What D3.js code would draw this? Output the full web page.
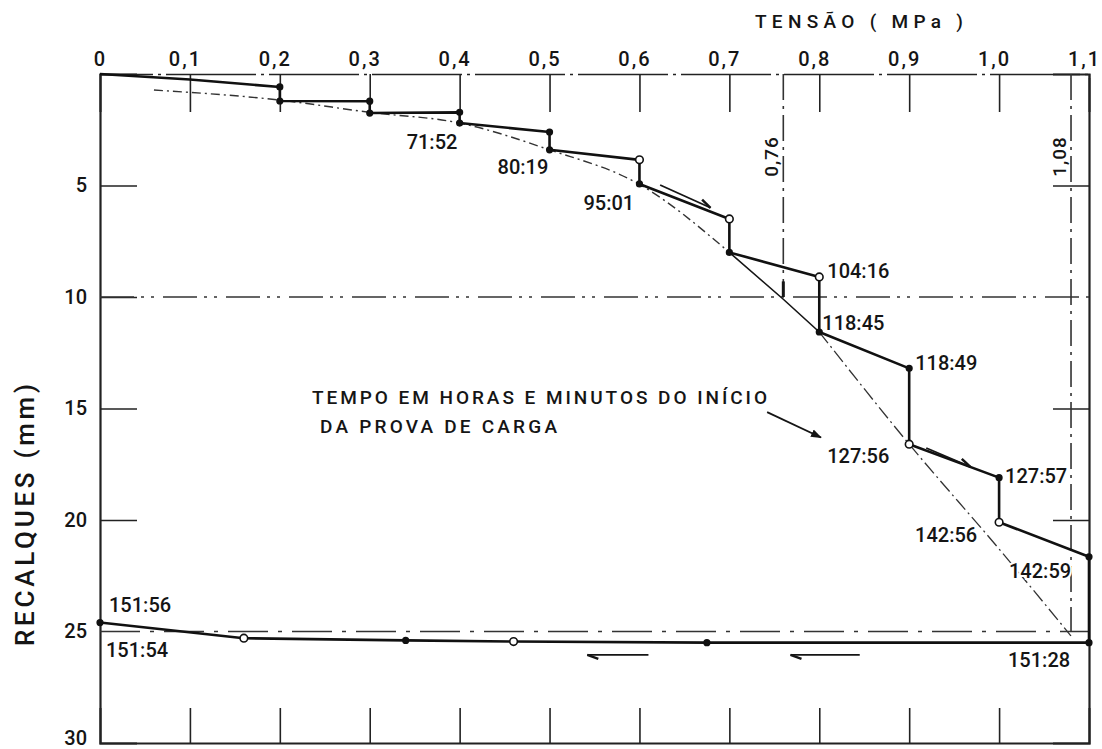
<!DOCTYPE html>
<meta charset="utf-8">
<html>
<script src="https://d3js.org/d3.v7.min.js"></script>
<style>
  body { margin: 0; background: #fff; }
  text { font-family: Roboto, sans-serif; fill: #151515; font-weight: 500; }
</style>
<body>
<div id="chart"></div>
<script>

// stress (MPa) on top axis, settlement (mm) on left axis, going down
var xTicks = [0, 0.1, 0.2, 0.3, 0.4, 0.5, 0.6, 0.7, 0.8, 0.9, 1.0, 1.1];
var yTicks = [5, 10, 15, 20, 25, 30];

// load test record: loading steps, then unloading
var loadStress = [0, 0.1, 0.2, 0.2, 0.3, 0.3, 0.4, 0.4, 0.5, 0.5, 0.6, 0.6, 0.7, 0.7, 0.8, 0.8, 0.9, 0.9, 1.0, 1.0, 1.1, 1.1, 0.675, 0.46, 0.34, 0.16, 0];
var loadSettle = [0, 0.25, 0.58, 1.21, 1.22, 1.75, 1.72, 2.2, 2.6, 3.4, 3.85, 4.93, 6.5, 8.0, 9.1, 11.57, 13.2, 16.6, 18.1, 20.1, 21.65, 25.5, 25.5, 25.45, 25.4, 25.3, 24.6];
// 0 = no marker, 1 = dot, 2 = open circle
var loadMark   = [0, 0, 1, 1, 1, 1, 1, 1, 1, 1, 2, 1, 2, 1, 2, 1, 1, 2, 1, 2, 1, 1, 1, 2, 1, 2, 1];

// fitted curve through the settled readings
var fitStress = [0.06, 0.2, 0.3, 0.4, 0.5, 0.6, 0.7];
var fitSettle = [0.72, 1.17, 1.72, 2.2, 3.4, 4.95, 8.0];
var midStress = [0.7, 0.76, 0.8];
var midSettle = [8.0, 10.1, 11.57];
var endStress = [0.8, 0.9, 1.0, 1.08];
var endSettle = [11.57, 16.6, 21.3, 25.2];

// time stamps (hours:minutes since start), attached to a reading
var timeText = ["71:52", "80:19", "95:01", "104:16", "118:45", "118:49", "127:56", "127:57", "142:56", "142:59", "151:28", "151:56", "151:54"];
var timeAt   = [7, 9, 11, 14, 15, 16, 17, 18, 19, 20, 21, 26, 26];
var timeDx   = [-53, -52, -56, 8, 3, 6, -82, 6, -84, -80, -81, 9, 6];
var timeDy   = [26, 24, 26, 1, -2, 2, 19, 5, 20, 21, 24, -11, 34];

// reference values
var refStress = [0.76, 1.08];
var refStressLabel = ["0,76", "1,08"];
var refSettle = [10, 25];
var refStressTo = [10, 25];

var width = 1102, height = 749;

var svg = d3.select("#chart").append("svg")
    .attr("width", width)
    .attr("height", height);

var x = d3.scaleLinear().domain([0, 1.1]).range([100, 1089]);
var y = d3.scaleLinear().domain([0, 30]).range([74, 743]);

var comma = function(d) { return d === 0 ? "0" : d3.format(".1f")(d).replace(".", ","); };

var defs = svg.append("defs");
defs.append("marker")
    .attr("id", "head")
    .attr("markerUnits", "userSpaceOnUse")
    .attr("viewBox", "-10 -5 12 10")
    .attr("markerWidth", 12).attr("markerHeight", 10)
    .attr("orient", "auto")
  .append("path")
    .attr("d", "M-10,-4 L1,0 L-10,4 Z")
    .attr("fill", "#151515");
defs.append("marker")
    .attr("id", "barb")
    .attr("markerUnits", "userSpaceOnUse")
    .attr("viewBox", "-12 -6 14 8")
    .attr("markerWidth", 14).attr("markerHeight", 8)
    .attr("orient", "auto")
  .append("path")
    .attr("d", "M0,0 L-11,-4")
    .attr("stroke", "#151515")
    .attr("stroke-width", 2.5)
    .attr("fill", "none");

// top axis with inward ticks
var axTop = svg.append("g")
    .attr("transform", "translate(0," + y(0) + ")")
    .call(d3.axisTop(x).tickValues(xTicks).tickSize(-38).tickPadding(8).tickFormat(comma));
axTop.select(".domain").attr("stroke", "#222").attr("stroke-width", 1.6).attr("stroke-dasharray", "90,5,3,5");
axTop.selectAll(".tick line").attr("stroke", "#222").attr("stroke-width", 1.6);
axTop.selectAll(".tick text").style("font-size", "20px").attr("letter-spacing", 2)
    .attr("dx", function(d) { return d === 0 ? 0 : -5; }).attr("fill", "#151515");

// bottom axis
var axBottom = svg.append("g")
    .attr("transform", "translate(0," + y(30) + ")")
    .call(d3.axisBottom(x).tickValues(xTicks.slice(1, 11)).tickSize(-35).tickFormat(""));
axBottom.select(".domain").attr("stroke", "#222").attr("stroke-width", 2);
axBottom.selectAll(".tick line").attr("stroke", "#222").attr("stroke-width", 1.6);

// left axis
var axLeft = svg.append("g")
    .attr("transform", "translate(" + x(0) + ",0)")
    .call(d3.axisLeft(y).tickValues(yTicks).tickSize(-37).tickPadding(13).tickFormat(function(d) { return d; }));
axLeft.select(".domain").attr("stroke", "#222").attr("stroke-width", 2.2);
axLeft.selectAll(".tick line").attr("stroke", "#222").attr("stroke-width", 1.6)
    .attr("display", function(d) { return d >= 25 ? "none" : null; });
axLeft.selectAll(".tick text").style("font-size", "20px").attr("fill", "#151515")
    .attr("dy", function(d) { return d === 30 ? "0.05em" : "0.32em"; });

// right axis
var axRight = svg.append("g")
    .attr("transform", "translate(" + x(1.1) + ",0)")
    .call(d3.axisRight(y).tickValues([5, 15, 20]).tickSize(-36).tickFormat(""));
axRight.select(".domain").attr("stroke", "#222").attr("stroke-width", 2.2);
axRight.selectAll(".tick line").attr("stroke", "#222").attr("stroke-width", 1.6);

// reference lines: settlement 10 mm and 25 mm across, stresses 0,76 and 1,08 down
svg.selectAll("line.hline")
    .data(refSettle)
    .enter().append("line")
    .attr("class", "hline")
    .attr("x1", x(0)).attr("x2", x(1.1))
    .attr("y1", function(d) { return y(d); }).attr("y2", function(d) { return y(d); })
    .attr("stroke", "#333")
    .attr("stroke-width", 1.4)
    .attr("stroke-dasharray", function(d, i) { return i === 0 ? "34,7,3,7,3,9" : "40,10,4,10"; });

svg.selectAll("line.vline")
    .data(refStress)
    .enter().append("line")
    .attr("class", "vline")
    .attr("x1", function(d) { return x(d); }).attr("x2", function(d) { return x(d); })
    .attr("y1", y(0))
    .attr("y2", function(d, i) { return y(refStressTo[i]); })
    .attr("stroke", "#333")
    .attr("stroke-width", 1.6)
    .attr("stroke-dasharray", "26,6,3,6");

svg.selectAll("text.vlabel")
    .data(refStress)
    .enter().append("text")
    .attr("class", "vlabel")
    .attr("transform", function(d) { return "translate(" + (x(d) - 5) + "," + y(3.7) + ") rotate(-90)"; })
    .attr("text-anchor", "middle")
    .style("font-size", "19px")
    .attr("letter-spacing", 1)
    .text(function(d, i) { return refStressLabel[i]; });

// short marker at 0,76 where the curve meets 10 mm
svg.append("line")
    .attr("x1", x(0.76)).attr("x2", x(0.76))
    .attr("y1", y(9.3)).attr("y2", y(10))
    .attr("stroke", "#151515").attr("stroke-width", 3);

// fitted curve
var fitLine = d3.line()
    .x(function(d) { return x(d[0]); })
    .y(function(d) { return y(d[1]); })
    .curve(d3.curveMonotoneX);

svg.append("path")
    .datum(d3.zip(fitStress, fitSettle))
    .attr("d", fitLine)
    .attr("fill", "none")
    .attr("stroke", "#333")
    .attr("stroke-width", 1.4)
    .attr("stroke-dasharray", "9,4,2,4");

svg.append("path")
    .datum(d3.zip(midStress, midSettle))
    .attr("d", d3.line().x(function(d) { return x(d[0]); }).y(function(d) { return y(d[1]); }))
    .attr("fill", "none")
    .attr("stroke", "#151515")
    .attr("stroke-width", 1.6);

svg.append("path")
    .datum(d3.zip(endStress, endSettle))
    .attr("d", fitLine)
    .attr("fill", "none")
    .attr("stroke", "#333")
    .attr("stroke-width", 1.3)
    .attr("stroke-dasharray", "14,4,2,4");

// load-settlement record
var loadData = d3.zip(loadStress, loadSettle, loadMark);

svg.append("path")
    .datum(loadData)
    .attr("d", d3.line().x(function(d) { return x(d[0]); }).y(function(d) { return y(d[1]); }))
    .attr("fill", "none")
    .attr("stroke", "#111")
    .attr("stroke-width", 2.6)
    .attr("stroke-linejoin", "round");

svg.selectAll("circle.pt")
    .data(loadData.filter(function(d) { return d[2] > 0; }))
    .enter().append("circle")
    .attr("class", "pt")
    .attr("cx", function(d) { return x(d[0]); })
    .attr("cy", function(d) { return y(d[1]); })
    .attr("r", function(d) { return d[2] === 2 ? 3.8 : 2.8; })
    .attr("fill", function(d) { return d[2] === 2 ? "#fff" : "#111"; })
    .attr("stroke", "#111")
    .attr("stroke-width", 1.6);

// direction marks
var dirFrom = [[0.623, 4.98], [0.919, 16.77], [0.61, 26.05], [0.845, 26.05]];
var dirTo   = [[0.679, 6.0], [0.968, 17.62], [0.542, 26.05], [0.768, 26.05]];
svg.selectAll("line.dir")
    .data(dirFrom)
    .enter().append("line")
    .attr("class", "dir")
    .attr("x1", function(d) { return x(d[0]); })
    .attr("y1", function(d) { return y(d[1]); })
    .attr("x2", function(d, i) { return x(dirTo[i][0]); })
    .attr("y2", function(d, i) { return y(dirTo[i][1]); })
    .attr("stroke", "#151515")
    .attr("stroke-width", 1.8)
    .attr("marker-end", "url(#barb)");

// time labels
svg.selectAll("text.time")
    .data(timeText)
    .enter().append("text")
    .attr("class", "time")
    .attr("x", function(d, i) { return x(loadStress[timeAt[i]]) + timeDx[i]; })
    .attr("y", function(d, i) { return y(loadSettle[timeAt[i]]) + timeDy[i]; })
    .style("font-size", "20px")
    .attr("stroke", "#fff")
    .attr("stroke-width", 4)
    .attr("paint-order", "stroke")
    .text(function(d) { return d; });

// note and its arrow
var note = svg.append("g");
note.append("text")
    .attr("x", 312).attr("y", 404)
    .attr("textLength", 455).attr("lengthAdjust", "spacing")
    .style("font-size", "19px")
    .text("TEMPO EM HORAS E MINUTOS DO INÍCIO");
note.append("text")
    .attr("x", 320).attr("y", 433)
    .attr("textLength", 237).attr("lengthAdjust", "spacing")
    .style("font-size", "19px")
    .text("DA PROVA DE CARGA");
note.append("line")
    .attr("x1", x(0.742)).attr("y1", y(15.16))
    .attr("x2", x(0.802)).attr("y2", y(16.3))
    .attr("stroke", "#151515")
    .attr("stroke-width", 1.8)
    .attr("marker-end", "url(#head)");

// axis titles
svg.append("text")
    .attr("x", 755).attr("y", 28)
    .attr("textLength", 208).attr("lengthAdjust", "spacing")
    .style("font-size", "19px")
    .text("TENSÃO ( MPa )");

svg.append("text")
    .attr("transform", "translate(34,515) rotate(-90)")
    .attr("text-anchor", "middle")
    .attr("textLength", 262).attr("lengthAdjust", "spacing")
    .style("font-size", "26px")
    .text("RECALQUES (mm)");

</script>
</body>
</html>
